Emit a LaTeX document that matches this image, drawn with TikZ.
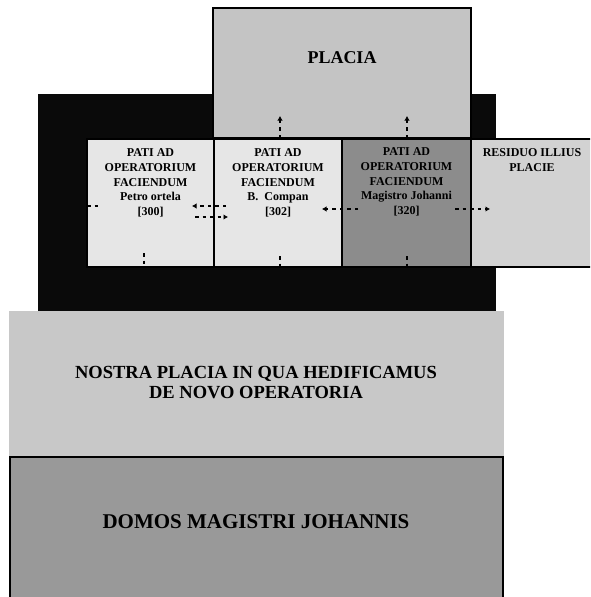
\documentclass[tikz,border=0pt]{standalone}
\usepackage{fontspec}
\setmainfont{Liberation Serif}
\usetikzlibrary{arrows.meta}
\definecolor{blk}{HTML}{0A0A0A}
\definecolor{placiac}{HTML}{C4C4C4}
\definecolor{lightc}{HTML}{E6E6E6}
\definecolor{darkc}{HTML}{8C8C8C}
\definecolor{residc}{HTML}{D2D2D2}
\definecolor{nostrac}{HTML}{C8C8C8}
\definecolor{domosc}{HTML}{999999}
\tikzset{
  area/.style={draw=black, line width=1.3pt, inner sep=0pt, outer sep=0pt, anchor=north west},
  celltxt/.style={font=\bfseries\fontsize{12}{14.8}\selectfont, align=center, inner sep=0pt},
  bigtxt/.style={font=\bfseries\fontsize{18.5}{20}\selectfont, align=center, inner sep=0pt},
  darr/.style={line width=1.8pt, dash pattern=on 3.5pt off 4pt, -{Latex[length=4.5pt,width=5.5pt]}},
  dstub/.style={line width=1.8pt, dash pattern=on 3.5pt off 4pt},
}
\begin{document}
\begin{tikzpicture}[x=1pt,y=-1pt]
\useasboundingbox (0,0) rectangle (590,597);
\clip (0,0) rectangle (590,597);
% black backdrop
\node[area, draw=none, fill=blk, minimum width=458pt, minimum height=219pt] (back) at (38,94) {};
% PLACIA
\node[area, fill=placiac, minimum width=258pt, minimum height=130pt] (placia) at (213,8) {};
\node[bigtxt, font=\bfseries\fontsize{18}{20}\selectfont] (placiat) at (342,58) {PLACIA};
% row of cells
\node[area, fill=lightc, minimum width=127pt, minimum height=128pt] (c1) at (87,139) {};
\node[area, fill=lightc, minimum width=128pt, minimum height=128pt] (c2) at (214,139) {};
\node[area, fill=darkc, minimum width=129pt, minimum height=128pt] (c3) at (342,139) {};
\node[area, fill=residc, minimum width=130pt, minimum height=128pt] (c4) at (471,139) {};
\node[celltxt] (t1) at (150.5,183) {PATI AD\\OPERATORIUM\\FACIENDUM\\Petro ortela\\{[300]}};
\node[celltxt] (t2) at (278,183) {PATI AD\\OPERATORIUM\\FACIENDUM\\B.\ \ Compan\\{[302]}};
\node[celltxt] (t3) at (406.5,182) {PATI AD\\OPERATORIUM\\FACIENDUM\\Magistro Johanni\\{[320]}};
\node[celltxt] (t4) at (532,160) {RESIDUO ILLIUS\\PLACIE};
% lower areas
\node[area, draw=none, fill=nostrac, minimum width=495pt, minimum height=146pt] (nostra) at (9,311) {};
\node[bigtxt] (nostrat) at (256,383) {NOSTRA PLACIA IN QUA HEDIFICAMUS\\DE NOVO OPERATORIA};
\node[area, line width=2pt, fill=domosc, minimum width=493pt, minimum height=150pt] (domos) at (10,457) {};
\node[bigtxt, font=\bfseries\fontsize{21}{24}\selectfont] (domost) at (256,522) {DOMOS MAGISTRI JOHANNIS};
% connector end points
\coordinate (p1a) at (87,206);  \coordinate (p1b) at (101,206);
\coordinate (p2a) at (226,206); \coordinate (p2b) at (192,206);
\coordinate (p3a) at (195,217); \coordinate (p3b) at (228,217);
\coordinate (p4a) at (358,209); \coordinate (p4b) at (322,209);
\coordinate (p5a) at (455,209); \coordinate (p5b) at (490,209);
\coordinate (p6a) at (280,138); \coordinate (p6b) at (280,116);
\coordinate (p7a) at (407,138); \coordinate (p7b) at (407,116);
\coordinate (p8a) at (144,253); \coordinate (p8b) at (144,267);
\coordinate (p9a) at (280,256); \coordinate (p9b) at (280,267);
\coordinate (p10a) at (407,256); \coordinate (p10b) at (407,266);
% connectors
\draw[dstub] (p1a) -- (p1b);
\draw[darr] (p2a) -- (p2b);
\draw[darr] (p3a) -- (p3b);
\draw[darr] (p4a) -- (p4b);
\draw[darr] (p5a) -- (p5b);
\draw[darr] (p6a) -- (p6b);
\draw[darr] (p7a) -- (p7b);
\draw[dstub] (p8a) -- (p8b);
\draw[dstub] (p9a) -- (p9b);
\draw[dstub] (p10a) -- (p10b);
\end{tikzpicture}
\end{document}
